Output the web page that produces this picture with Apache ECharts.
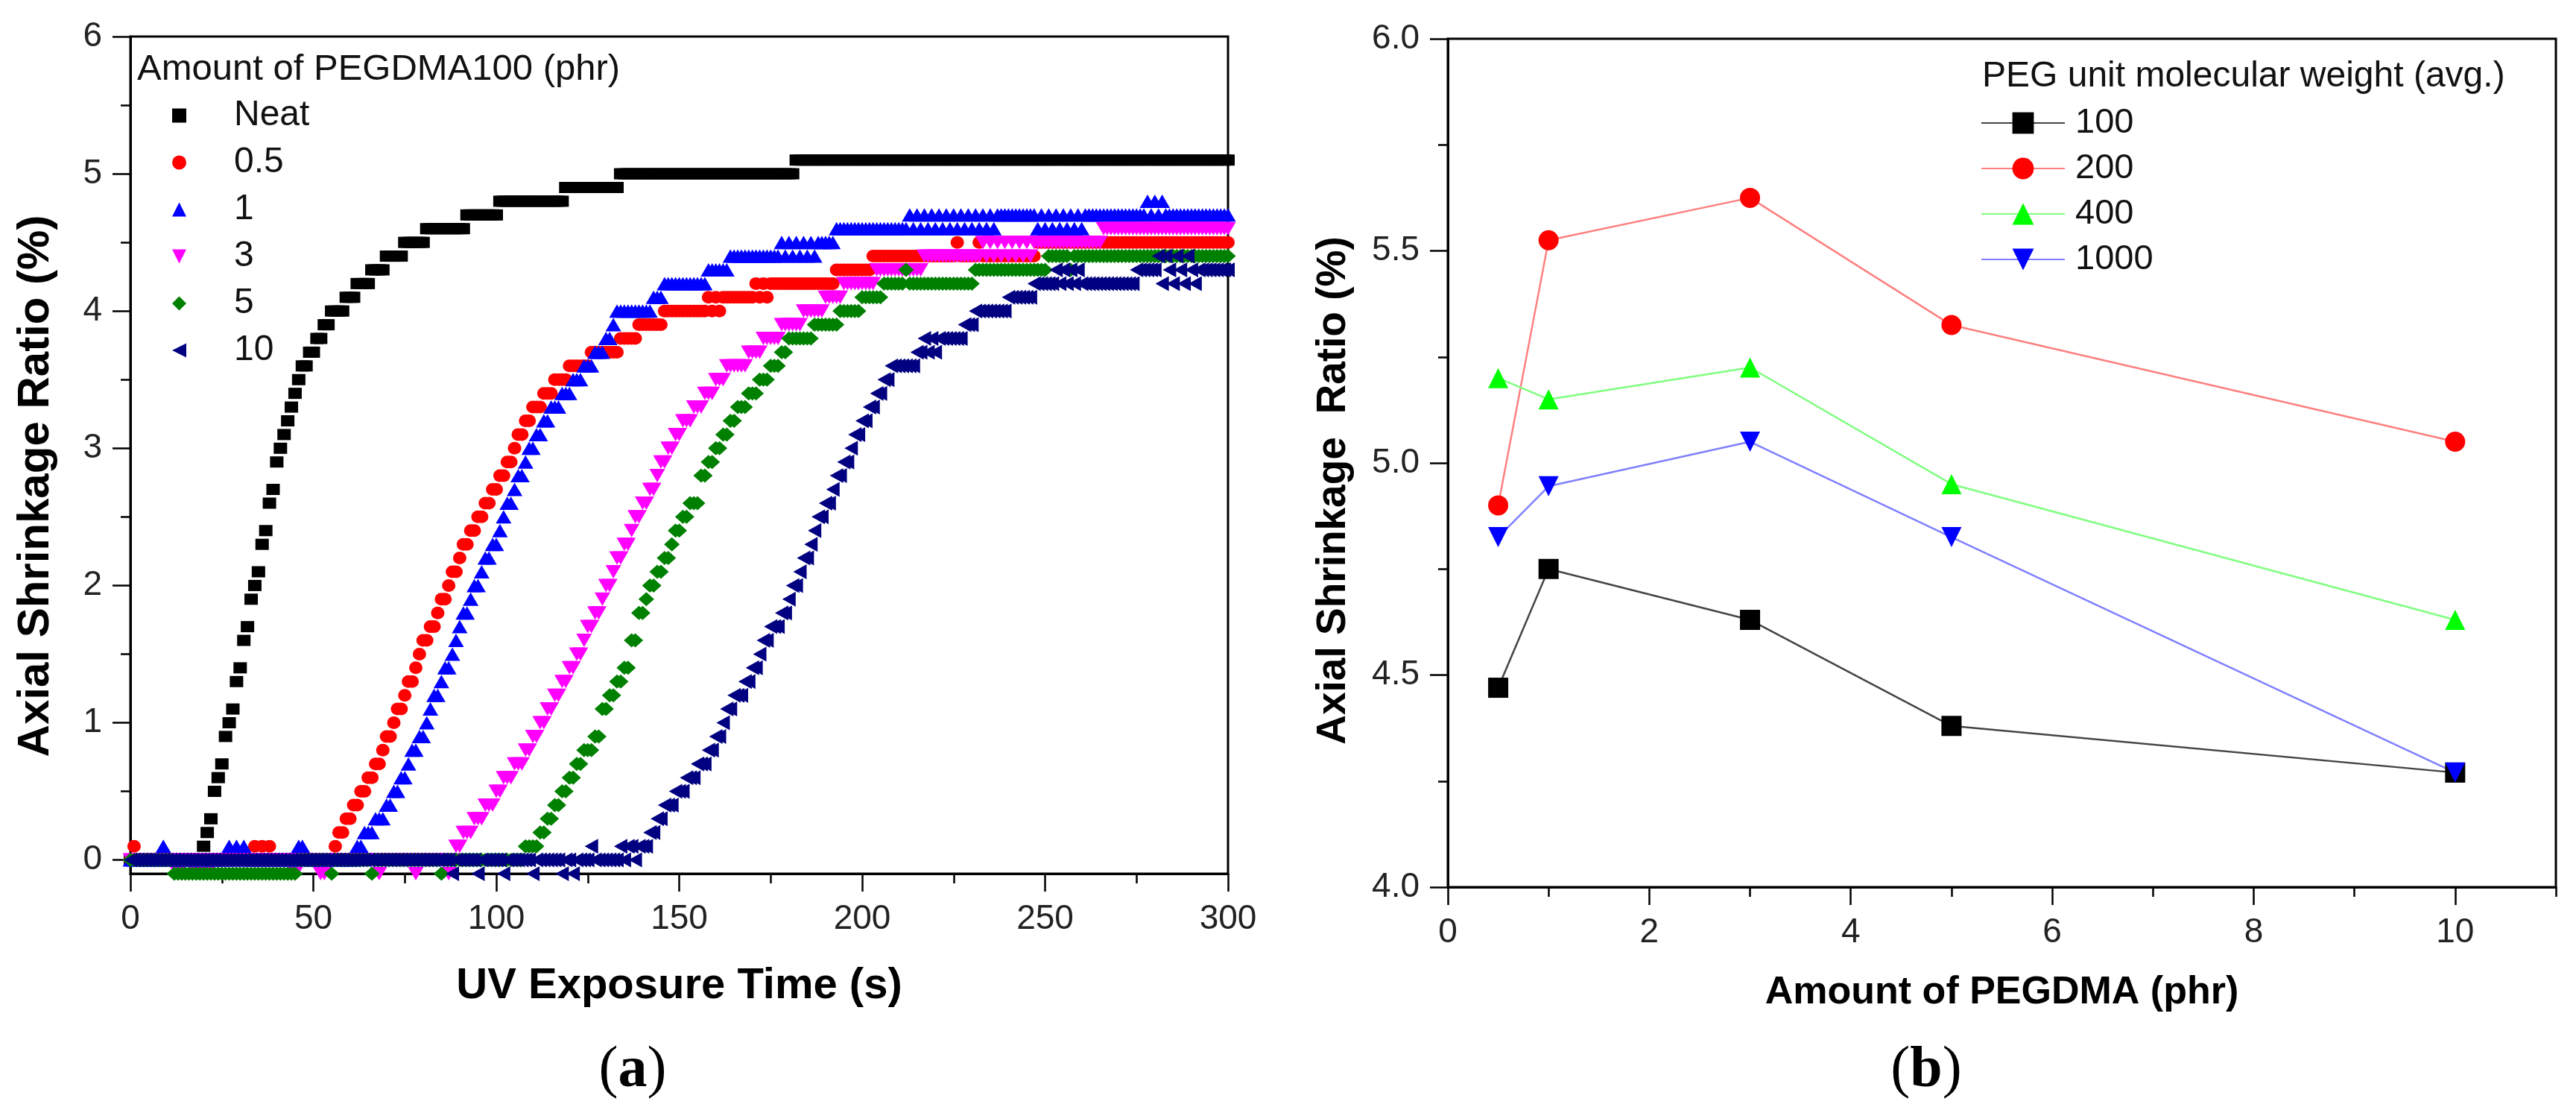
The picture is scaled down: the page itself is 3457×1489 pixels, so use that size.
<!DOCTYPE html>
<html>
<head>
<meta charset="utf-8">
<title>Axial shrinkage ratio</title>
<script src="https://cdn.jsdelivr.net/npm/echarts@6/dist/echarts.min.js"></script>
<style>
  html, body { margin: 0; padding: 0; background: #fff; }
  #chart { width: 3457px; height: 1489px; }
</style>
</head>
<body>
<div id="chart"></div>
<script>
// (a) axial shrinkage ratio (%) read once per second, 0 s .. 300 s
var TIME_STEP = 1

var neat = [
  0,0,0,0,0,0,0,0,0,0,
  0,0,0,0,0,0,0,0,0,0,
  0.1,0.2,0.3,0.5,0.6,0.7,0.9,1.0,1.1,1.3,
  1.4,1.6,1.7,1.9,2.0,2.1,2.3,2.4,2.6,2.7,
  2.9,3.0,3.1,3.2,3.3,3.4,3.5,3.6,3.6,3.7,
  3.7,3.8,3.8,3.9,3.9,4.0,4.0,4.0,4.0,4.1,
  4.1,4.1,4.2,4.2,4.2,4.2,4.3,4.3,4.3,4.3,
  4.4,4.4,4.4,4.4,4.4,4.5,4.5,4.5,4.5,4.5,
  4.5,4.6,4.6,4.6,4.6,4.6,4.6,4.6,4.6,4.6,
  4.6,4.6,4.7,4.7,4.7,4.7,4.7,4.7,4.7,4.7,
  4.7,4.8,4.8,4.8,4.8,4.8,4.8,4.8,4.8,4.8,
  4.8,4.8,4.8,4.8,4.8,4.8,4.8,4.8,4.8,4.9,
  4.9,4.9,4.9,4.9,4.9,4.9,4.9,4.9,4.9,4.9,
  4.9,4.9,4.9,4.9,5.0,5.0,5.0,5.0,5.0,5.0,
  5.0,5.0,5.0,5.0,5.0,5.0,5.0,5.0,5.0,5.0,
  5.0,5.0,5.0,5.0,5.0,5.0,5.0,5.0,5.0,5.0,
  5.0,5.0,5.0,5.0,5.0,5.0,5.0,5.0,5.0,5.0,
  5.0,5.0,5.0,5.0,5.0,5.0,5.0,5.0,5.0,5.0,
  5.0,5.0,5.1,5.1,5.1,5.1,5.1,5.1,5.1,5.1,
  5.1,5.1,5.1,5.1,5.1,5.1,5.1,5.1,5.1,5.1,
  5.1,5.1,5.1,5.1,5.1,5.1,5.1,5.1,5.1,5.1,
  5.1,5.1,5.1,5.1,5.1,5.1,5.1,5.1,5.1,5.1,
  5.1,5.1,5.1,5.1,5.1,5.1,5.1,5.1,5.1,5.1,
  5.1,5.1,5.1,5.1,5.1,5.1,5.1,5.1,5.1,5.1,
  5.1,5.1,5.1,5.1,5.1,5.1,5.1,5.1,5.1,5.1,
  5.1,5.1,5.1,5.1,5.1,5.1,5.1,5.1,5.1,5.1,
  5.1,5.1,5.1,5.1,5.1,5.1,5.1,5.1,5.1,5.1,
  5.1,5.1,5.1,5.1,5.1,5.1,5.1,5.1,5.1,5.1,
  5.1,5.1,5.1,5.1,5.1,5.1,5.1,5.1,5.1,5.1,
  5.1,5.1,5.1,5.1,5.1,5.1,5.1,5.1,5.1,5.1,
  5.1
]

var phr05 = [
  0,0.1,0,0,0,0,0,0,0,0,
  0,0,0,0,0,0,0,0,0,0,
  0,0,0,0,0,0,0,0,0,0,
  0,0,0,0,0.1,0,0.1,0,0.1,0,
  0,0,0,0,0,0,0,0,0,0,
  0,0,0,0,0,0,0.1,0.2,0.2,0.3,
  0.3,0.4,0.4,0.5,0.5,0.6,0.6,0.7,0.7,0.8,
  0.9,0.9,1.0,1.1,1.1,1.2,1.3,1.3,1.4,1.5,
  1.6,1.6,1.7,1.7,1.8,1.9,1.9,2.0,2.1,2.1,
  2.2,2.3,2.3,2.4,2.4,2.5,2.5,2.6,2.6,2.7,
  2.7,2.8,2.8,2.9,2.9,3.0,3.1,3.1,3.2,3.2,
  3.3,3.3,3.3,3.4,3.4,3.4,3.5,3.5,3.5,3.5,
  3.6,3.6,3.6,3.6,3.6,3.6,3.7,3.7,3.7,3.7,
  3.7,3.7,3.7,3.7,3.8,3.8,3.8,3.8,3.8,3.9,
  3.9,3.9,3.9,3.9,3.9,3.9,4.0,4.0,4.0,4.0,
  4.0,4.0,4.0,4.0,4.0,4.0,4.0,4.0,4.1,4.0,
  4.1,4.0,4.1,4.1,4.1,4.1,4.1,4.1,4.1,4.1,
  4.1,4.2,4.1,4.2,4.1,4.2,4.2,4.2,4.2,4.2,
  4.2,4.2,4.2,4.2,4.2,4.2,4.2,4.2,4.2,4.2,
  4.2,4.2,4.2,4.3,4.3,4.3,4.3,4.3,4.3,4.3,
  4.3,4.3,4.3,4.4,4.4,4.4,4.4,4.4,4.4,4.4,
  4.4,4.4,4.4,4.4,4.4,4.4,4.4,4.4,4.4,4.4,
  4.4,4.4,4.4,4.4,4.4,4.4,4.5,4.4,4.4,4.4,
  4.4,4.4,4.5,4.4,4.4,4.4,4.4,4.4,4.4,4.4,
  4.4,4.4,4.4,4.4,4.4,4.4,4.4,4.4,4.5,4.5,
  4.5,4.5,4.5,4.5,4.5,4.5,4.5,4.5,4.5,4.5,
  4.5,4.5,4.5,4.5,4.5,4.5,4.5,4.5,4.5,4.5,
  4.5,4.5,4.5,4.5,4.5,4.5,4.5,4.5,4.5,4.5,
  4.5,4.5,4.5,4.5,4.5,4.5,4.5,4.5,4.5,4.5,
  4.5,4.5,4.5,4.5,4.5,4.5,4.5,4.5,4.5,4.5,
  4.5
]

var phr1 = [
  0,0,0,0,0,0,0,0,0,0.1,
  0,0,0,0,0,0,0,0,0,0,
  0,0,0,0,0,0,0,0.1,0,0.1,
  0,0.1,0,0,0,0,0,0,0,0,
  0,0,0,0,0,0,0.1,0.1,0,0,
  0,0,0,0,0,0,0,0,0,0,
  0,0,0.1,0.1,0.2,0.2,0.2,0.3,0.3,0.3,
  0.4,0.4,0.5,0.5,0.6,0.6,0.7,0.8,0.8,0.9,
  0.9,1.0,1.1,1.2,1.2,1.3,1.4,1.4,1.5,1.6,
  1.7,1.8,1.8,1.9,2.0,2.0,2.1,2.2,2.2,2.3,
  2.3,2.4,2.5,2.6,2.6,2.7,2.8,2.8,2.9,3.0,
  3.0,3.1,3.1,3.2,3.2,3.3,3.3,3.3,3.4,3.4,
  3.4,3.5,3.5,3.5,3.6,3.6,3.6,3.7,3.7,3.7,
  3.8,3.8,3.9,4.0,4.0,4.0,4.0,4.0,4.0,4.0,
  4.0,4.0,4.0,4.1,4.1,4.1,4.2,4.2,4.2,4.2,
  4.2,4.2,4.2,4.2,4.2,4.2,4.2,4.2,4.3,4.3,
  4.3,4.3,4.3,4.3,4.4,4.4,4.4,4.4,4.4,4.4,
  4.4,4.4,4.4,4.4,4.4,4.4,4.4,4.4,4.5,4.4,
  4.5,4.4,4.5,4.4,4.5,4.4,4.5,4.4,4.5,4.5,
  4.5,4.5,4.5,4.6,4.6,4.6,4.6,4.6,4.6,4.6,
  4.6,4.6,4.6,4.6,4.6,4.6,4.6,4.6,4.6,4.6,
  4.6,4.6,4.6,4.7,4.6,4.7,4.6,4.7,4.6,4.7,
  4.6,4.7,4.6,4.7,4.6,4.7,4.6,4.7,4.6,4.7,
  4.6,4.7,4.6,4.7,4.6,4.7,4.6,4.7,4.7,4.7,
  4.7,4.7,4.7,4.7,4.7,4.7,4.7,4.7,4.6,4.7,
  4.6,4.7,4.6,4.7,4.6,4.7,4.6,4.7,4.6,4.7,
  4.6,4.7,4.7,4.7,4.7,4.7,4.7,4.7,4.7,4.7,
  4.7,4.7,4.7,4.7,4.7,4.7,4.7,4.7,4.8,4.7,
  4.8,4.7,4.8,4.7,4.7,4.7,4.7,4.7,4.7,4.7,
  4.7,4.7,4.7,4.7,4.7,4.7,4.7,4.7,4.7,4.7,
  4.7
]

var phr3 = [
  0,0,0,0,0,0,0,0,0,0,
  0,0,0,-0.1,0,0,0,0,-0.1,0,
  0,-0.1,0,0,0,0,0,0,0,0,
  0,0,0,0,0,0,0,0,0,0,
  0,0,0,0,0,-0.1,0,0,0,0,
  0,0,-0.1,-0.1,0,0,0,0,0,0,
  0,0,0,0,0,0,0,0,-0.1,0,
  0,0,0,0,0,0,0,0,-0.1,0,
  0,0,0,0,0,0,0,-0.1,0,0.1,
  0.1,0.2,0.2,0.2,0.3,0.3,0.3,0.4,0.4,0.4,
  0.5,0.5,0.6,0.6,0.6,0.7,0.7,0.7,0.8,0.8,
  0.9,0.9,1.0,1.0,1.1,1.1,1.2,1.2,1.3,1.3,
  1.4,1.4,1.5,1.5,1.6,1.7,1.7,1.8,1.8,1.9,
  2.0,2.0,2.1,2.2,2.2,2.3,2.3,2.4,2.5,2.5,
  2.6,2.6,2.7,2.7,2.8,2.9,2.9,3.0,3.0,3.1,
  3.1,3.2,3.2,3.2,3.3,3.3,3.3,3.4,3.4,3.4,
  3.5,3.5,3.5,3.6,3.6,3.6,3.6,3.6,3.6,3.7,
  3.7,3.7,3.7,3.8,3.8,3.8,3.8,3.8,3.9,3.9,
  3.9,3.9,3.9,3.9,4.0,4.0,4.0,4.0,4.0,4.0,
  4.1,4.1,4.1,4.1,4.1,4.2,4.2,4.2,4.2,4.2,
  4.2,4.2,4.2,4.2,4.3,4.3,4.3,4.3,4.3,4.3,
  4.3,4.3,4.3,4.3,4.3,4.3,4.3,4.4,4.4,4.4,
  4.4,4.4,4.4,4.4,4.4,4.4,4.4,4.4,4.4,4.4,
  4.4,4.4,4.4,4.5,4.4,4.5,4.4,4.5,4.4,4.5,
  4.4,4.5,4.4,4.5,4.4,4.5,4.4,4.5,4.5,4.5,
  4.5,4.5,4.5,4.5,4.5,4.5,4.5,4.5,4.5,4.5,
  4.5,4.5,4.5,4.5,4.5,4.5,4.6,4.6,4.6,4.6,
  4.6,4.6,4.6,4.6,4.6,4.6,4.6,4.6,4.6,4.6,
  4.6,4.6,4.6,4.6,4.6,4.6,4.6,4.6,4.6,4.6,
  4.6,4.6,4.6,4.6,4.6,4.6,4.6,4.6,4.6,4.6,
  4.6
]

var phr5 = [
  0,0,0,0,0,0,0,0,0,0,
  0,0,-0.1,-0.1,-0.1,-0.1,-0.1,-0.1,-0.1,-0.1,
  -0.1,-0.1,-0.1,-0.1,-0.1,-0.1,-0.1,-0.1,-0.1,-0.1,
  -0.1,-0.1,-0.1,-0.1,-0.1,-0.1,-0.1,-0.1,-0.1,-0.1,
  -0.1,-0.1,-0.1,-0.1,-0.1,-0.1,0,0,0,0,
  0,0,0,0,0,-0.1,0,0,0,0,
  0,0,0,0,0,0,-0.1,0,0,0,
  0,0,0,0,0,0,0,0,0,0,
  0,0,0,0,0,-0.1,0,0,0,0,
  0,0,0,0,0,0,0,0,0,0,
  0,0,0,0,0,0,0,0,0.1,0.1,
  0.1,0.1,0.2,0.2,0.3,0.3,0.4,0.4,0.5,0.5,
  0.6,0.6,0.7,0.7,0.8,0.8,0.8,0.9,0.9,1.1,
  1.1,1.2,1.2,1.3,1.3,1.4,1.4,1.6,1.6,1.8,
  1.8,1.9,2.0,2.0,2.1,2.1,2.2,2.2,2.3,2.4,
  2.4,2.5,2.5,2.6,2.6,2.6,2.8,2.8,2.9,2.9,
  3.0,3.0,3.1,3.1,3.2,3.2,3.3,3.3,3.3,3.4,
  3.4,3.4,3.5,3.5,3.5,3.6,3.6,3.6,3.7,3.7,
  3.8,3.8,3.8,3.8,3.8,3.8,3.8,3.9,3.9,3.9,
  3.9,3.9,3.9,3.9,4.0,4.0,4.0,4.0,4.0,4.0,
  4.1,4.1,4.1,4.1,4.1,4.1,4.2,4.2,4.2,4.2,
  4.2,4.2,4.3,4.2,4.2,4.2,4.2,4.2,4.2,4.2,
  4.2,4.2,4.2,4.2,4.2,4.2,4.2,4.2,4.2,4.2,
  4.2,4.3,4.3,4.3,4.3,4.3,4.3,4.3,4.3,4.3,
  4.3,4.3,4.3,4.3,4.3,4.3,4.3,4.3,4.3,4.3,
  4.3,4.4,4.4,4.4,4.4,4.4,4.4,4.3,4.4,4.4,
  4.4,4.4,4.4,4.4,4.4,4.4,4.4,4.4,4.4,4.4,
  4.4,4.4,4.4,4.4,4.4,4.4,4.4,4.4,4.4,4.4,
  4.4,4.4,4.4,4.4,4.4,4.4,4.4,4.4,4.4,4.4,
  4.4,4.4,4.4,4.4,4.4,4.4,4.4,4.4,4.4,4.4,
  4.4
]

var phr10 = [
  0,0,0,0,0,0,0,0,0,0,
  0,0,0,0,0,0,0,0,0,0,
  0,0,0,0,0,0,0,0,0,0,
  0,0,0,0,0,0,0,0,0,0,
  0,0,0,0,0,0,0,0,0,0,
  0,0,0,0,0,0,0,0,0,0,
  0,0,0,0,0,0,0,0,0,0,
  0,0,0,0,0,0,0,0,0,0,
  0,0,0,0,0,0,0,0,-0.1,0,
  0,0,0,0,0,-0.1,0,0,0,0,
  0,0,-0.1,0,0,0,0,0,0,0,
  -0.1,0,0,0,0,0,0,0,-0.1,0,
  0,-0.1,0,0,0,0,0.1,0,0,0,
  0,0,0,0,0.1,0,0.1,0.1,0,0.1,
  0.1,0.1,0.2,0.2,0.3,0.3,0.4,0.4,0.4,0.5,
  0.5,0.5,0.6,0.6,0.6,0.7,0.7,0.7,0.8,0.8,
  0.9,0.9,1.0,1.1,1.1,1.2,1.2,1.2,1.3,1.3,
  1.4,1.4,1.5,1.6,1.6,1.7,1.7,1.7,1.8,1.8,
  1.9,2.0,2.0,2.1,2.2,2.2,2.3,2.4,2.5,2.5,
  2.6,2.6,2.7,2.8,2.8,2.9,2.9,3.0,3.1,3.1,
  3.2,3.2,3.3,3.3,3.4,3.4,3.5,3.5,3.6,3.6,
  3.6,3.6,3.6,3.6,3.6,3.7,3.7,3.8,3.7,3.8,
  3.7,3.8,3.8,3.8,3.8,3.8,3.8,3.8,3.9,3.9,
  3.9,4.0,4.0,4.0,4.0,4.0,4.0,4.0,4.0,4.0,
  4.1,4.1,4.1,4.1,4.1,4.1,4.1,4.2,4.2,4.2,
  4.2,4.2,4.2,4.3,4.2,4.3,4.2,4.3,4.2,4.3,
  4.2,4.2,4.2,4.2,4.2,4.2,4.2,4.2,4.2,4.2,
  4.2,4.2,4.2,4.2,4.2,4.3,4.3,4.3,4.3,4.3,
  4.3,4.4,4.2,4.4,4.3,4.2,4.4,4.3,4.2,4.4,
  4.3,4.2,4.3,4.3,4.3,4.3,4.3,4.3,4.3,4.3,
  4.3
]

var timeSeriesNames = ['Neat', '0.5', '1', '3', '5', '10']

// (b) shrinkage ratio (%) vs amount of PEGDMA (phr)
var phrAmounts = [0.5, 1, 3, 5, 10]
var mw100 = [4.47, 4.75, 4.63, 4.38, 4.27]
var mw200 = [4.90, 5.525, 5.625, 5.325, 5.05]
var mw400 = [5.20, 5.15, 5.225, 4.95, 4.63]
var mw1000 = [4.825, 4.945, 5.05, 4.825, 4.27]
var weightNames = ['100', '200', '400', '1000']

var yTicksA = [0, 1, 2, 3, 4, 5, 6]
var yMinorTicksA = [0.5, 1.5, 2.5, 3.5, 4.5, 5.5]
var xTicksB = [0, 2, 4, 6, 8, 10]
var xMinorTicksB = [1, 3, 5, 7, 9, 11]

var SANS = "'Liberation Sans', Arial, Helvetica, sans-serif"
var SERIF = "'Liberation Serif', 'Times New Roman', serif"

var TRI_DOWN = 'path://M0,0L10,0L5,10Z'
var TRI_LEFT = 'path://M0,5L10,0L10,10Z'

function timePoints(values) {
  return values.map(function(v, i) {
    return [i * TIME_STEP, v]
  })
}

function phrPoints(values) {
  return values.map(function(v, i) {
    return [phrAmounts[i], v]
  })
}

function scatterSeries(name, values, symbol, size, color) {
  return {
    name: name,
    type: 'scatter',
    xAxisIndex: 0,
    yAxisIndex: 0,
    data: timePoints(values),
    symbol: symbol,
    symbolSize: size,
    itemStyle: { color: color, opacity: 1 },
    silent: true
  }
}

function lineSeries(name, values, symbol, color, lineColor) {
  return {
    name: name,
    type: 'line',
    xAxisIndex: 1,
    yAxisIndex: 2,
    data: phrPoints(values),
    symbol: symbol,
    symbolSize: 27,
    showAllSymbol: true,
    itemStyle: { color: color },
    lineStyle: { color: lineColor, width: 2.5 },
    silent: true
  }
}

function axisText(size) {
  return { fontFamily: SANS, fontSize: size, color: '#222' }
}

function mainTick() {
  return { show: true, length: 24, lineStyle: { color: '#000', width: 2.5 } }
}

function minorTickAxis(gridIndex, values, min, max, isX) {
  return {
    gridIndex: gridIndex,
    type: 'value',
    position: isX ? 'bottom' : 'left',
    min: min,
    max: max,
    axisLine: { show: false },
    axisLabel: { show: false },
    splitLine: { show: false },
    axisTick: { show: true, length: 13, customValues: values, lineStyle: { color: '#000', width: 2.5 } }
  }
}

// rotated axis title, centred on (x, y)
function verticalTitle(text, x, y, size) {
  return {
    type: 'text', x: x, y: y, rotation: Math.PI / 2,
    style: {
      text: text, fill: '#000', fontFamily: SANS, fontSize: size, fontWeight: 'bold',
      align: 'center', verticalAlign: 'middle', textAlign: 'center', textVerticalAlign: 'middle'
    }
  }
}

function panelLabel(letter, x, y) {
  return {
    type: 'text', x: x, y: y,
    style: {
      text: '{p|(}{b|' + letter + '}{p|)}', align: 'center', verticalAlign: 'middle',
      textAlign: 'center', textVerticalAlign: 'middle',
      rich: {
        p: { fontFamily: SERIF, fontSize: 78, fill: '#000' },
        b: { fontFamily: SERIF, fontSize: 78, fontWeight: 'bold', fill: '#000' }
      }
    }
  }
}

function drawShrinkageCharts(dom) {
  var chart = echarts.init(dom)
  var axisLine = { show: true, onZero: false, lineStyle: { color: '#000', width: 3 } }

  var option = {
    animation: false,
    backgroundColor: '#fff',
    title: [
      {
        text: 'Amount of PEGDMA100 (phr)', left: 184, top: 68, padding: 0,
        textStyle: { fontFamily: SANS, fontSize: 49, fontWeight: 'normal', color: '#111', lineHeight: 50 }
      },
      {
        text: 'PEG unit molecular weight (avg.)', left: 2660, top: 78, padding: 0,
        textStyle: { fontFamily: SANS, fontSize: 48, fontWeight: 'normal', color: '#111', lineHeight: 50 }
      }
    ],
    legend: [
      {
        data: timeSeriesNames, orient: 'vertical', left: 231, top: 131,
        itemWidth: 19, itemHeight: 19, itemGap: 15, padding: 0, selectedMode: false,
        textStyle: { fontFamily: SANS, fontSize: 48, color: '#111', lineHeight: 48, padding: [0, 0, 0, 59] }
      },
      {
        data: weightNames, orient: 'vertical', left: 2658, top: 141,
        itemWidth: 112, itemHeight: 36, itemGap: 13, padding: 0, selectedMode: false,
        textStyle: { fontFamily: SANS, fontSize: 47, color: '#111', lineHeight: 48, padding: [0, 0, 0, 9] }
      }
    ],
    grid: [
      { left: 175, top: 49, width: 1473, height: 1123, show: true, borderColor: '#000', borderWidth: 3 },
      { left: 1943, top: 52, width: 1487, height: 1138, show: true, borderColor: '#000', borderWidth: 3 }
    ],
    xAxis: [
      {
        gridIndex: 0, type: 'value', min: 0, max: 300, interval: 50,
        axisLine: axisLine, axisTick: mainTick(),
        minorTick: { show: true, splitNumber: 2, length: 13, lineStyle: { color: '#000', width: 2.5 } },
        axisLabel: Object.assign({ margin: 38 }, axisText(46)),
        splitLine: { show: false },
        name: 'UV Exposure Time (s)', nameLocation: 'middle', nameGap: 122,
        nameTextStyle: { fontFamily: SANS, fontSize: 58, fontWeight: 'bold', color: '#000' }
      },
      {
        gridIndex: 1, type: 'value', min: 0, max: 11,
        axisLine: axisLine,
        axisTick: Object.assign(mainTick(), { customValues: xTicksB }),
        axisLabel: Object.assign({ margin: 38, customValues: xTicksB }, axisText(46)),
        splitLine: { show: false },
        name: 'Amount of PEGDMA (phr)', nameLocation: 'middle', nameGap: 116,
        nameTextStyle: { fontFamily: SANS, fontSize: 52, fontWeight: 'bold', color: '#000' }
      },
      minorTickAxis(1, xMinorTicksB, 0, 11, true)
    ],
    yAxis: [
      {
        gridIndex: 0, type: 'value', min: -0.1, max: 6,
        axisLine: axisLine,
        axisTick: Object.assign(mainTick(), { customValues: yTicksA }),
        axisLabel: Object.assign({ margin: 38, customValues: yTicksA }, axisText(46)),
        splitLine: { show: false }
      },
      minorTickAxis(0, yMinorTicksA, -0.1, 6, false),
      {
        gridIndex: 1, type: 'value', min: 4, max: 6, interval: 0.5,
        axisLine: axisLine, axisTick: mainTick(),
        minorTick: { show: true, splitNumber: 2, length: 13, lineStyle: { color: '#000', width: 2.5 } },
        axisLabel: Object.assign({
          margin: 38,
          formatter: function(v) { return v.toFixed(1) }
        }, axisText(46)),
        splitLine: { show: false }
      }
    ],
    graphic: [
      verticalTitle('Axial Shrinkage Ratio (%)', 48, 652, 60),
      verticalTitle('Axial Shrinkage  Ratio (%)', 1790, 658, 55),
      panelLabel('a', 849, 1437),
      panelLabel('b', 2585, 1437)
    ],
    series: [
      scatterSeries('Neat', neat, 'rect', [18, 15], '#000000'),
      scatterSeries('0.5', phr05, 'circle', [18, 17], '#ff0000'),
      scatterSeries('1', phr1, 'triangle', [21, 18], '#0000ff'),
      scatterSeries('3', phr3, TRI_DOWN, [21, 18], '#ff00ff'),
      scatterSeries('5', phr5, 'diamond', [21, 19], '#008000'),
      scatterSeries('10', phr10, TRI_LEFT, [18, 20], '#000080'),
      lineSeries('100', mw100, 'rect', '#000000', '#444444'),
      lineSeries('200', mw200, 'circle', '#ff0000', '#ff8080'),
      lineSeries('400', mw400, 'triangle', '#00ff00', '#80ff80'),
      lineSeries('1000', mw1000, TRI_DOWN, '#0000ff', '#8080ff')
    ]
  }

  chart.setOption(option)
}

drawShrinkageCharts(document.getElementById('chart'))
</script>
</body>
</html>
